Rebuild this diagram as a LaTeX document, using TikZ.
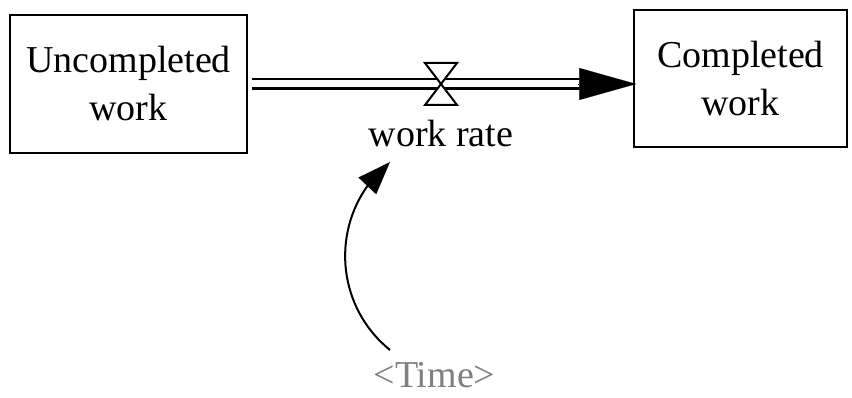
\documentclass[tikz,border=0pt]{standalone}
\usepackage{fontspec}
\setmainfont{Liberation Serif}
\usetikzlibrary{arrows.meta,bending,positioning}

\begin{document}
\begin{tikzpicture}[x=1pt,y=1pt,
		stock/.style={rectangle,draw,line width=1.6pt,align=center,inner sep=0pt,
			font=\fontsize{38}{48}\selectfont},
		pipe/.style={draw,line width=2.2pt,double=white,double distance=7pt},
		flowhead/.style={-{Triangle[length=57pt,width=32pt]},line width=0.1pt},
		valve/.style={draw,line width=2pt,fill=white},
		label/.style={font=\fontsize{38}{48}\selectfont,inner sep=0pt,anchor=base},
		link/.style={-{Triangle[length=33pt,width=24pt,flex]},line width=2pt}]

	\useasboundingbox (0,0) rectangle (852,397);

	\node[stock,minimum width=237pt,minimum height=138pt] (uncompleted) at (128.5,313) {Uncompleted\\work};
	\node[stock,minimum width=213pt,minimum height=137pt] (completed)   at (740.5,318.5) {Completed\\work};
	\coordinate (valve) at (441,313);
	\node[label] (rate) at (441,250) {work rate};
	\node[label,text=black!50] (time) at (434.5,10) {<Time>};

	% flow pipe
	\draw[pipe] ([xshift=4pt]uncompleted.east) -- ([xshift=-50pt]completed.west |- valve);
	\draw[flowhead] ([xshift=-55pt]completed.west |- valve) -- ([xshift=3pt]completed.west |- valve);
	\draw[valve] ([shift={(-16,21)}]valve) -- ([shift={(16,21)}]valve) -- ([shift={(-16,-21)}]valve)
		-- ([shift={(16,-21)}]valve) -- cycle;

	% info link
	\draw[link] ([shift={(-44.5,37)}]time.base) to[bend left=51,looseness=1.05] ([shift={(-51,-15)}]rate.base);
\end{tikzpicture}
\end{document}
